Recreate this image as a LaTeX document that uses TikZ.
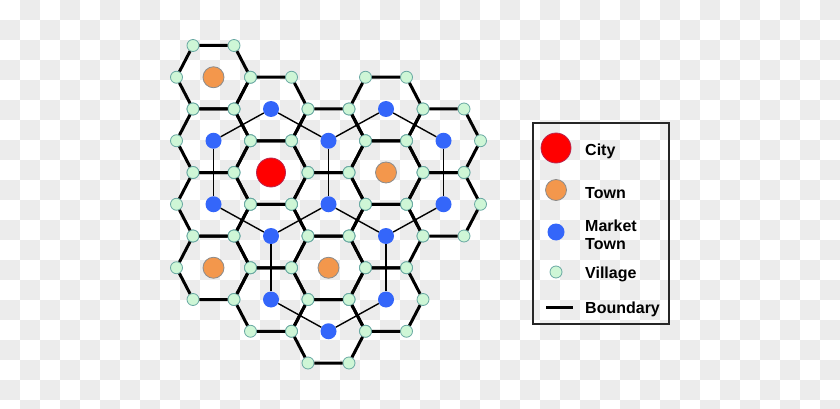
\documentclass[tikz,border=0pt]{standalone}
\usepackage{fontspec}
\setmainfont{Liberation Sans}
\definecolor{checkgray}{RGB}{236,236,236}
\definecolor{villagefill}{RGB}{206,246,214}
\definecolor{villageedge}{RGB}{104,168,162}
\definecolor{marketblue}{RGB}{52,102,250}
\definecolor{townorange}{RGB}{243,151,76}
\definecolor{townedge}{RGB}{140,140,140}
\definecolor{cityred}{RGB}{255,0,0}
\definecolor{cityedge}{RGB}{185,40,80}
\begin{document}
\begin{tikzpicture}[x=1pt,y=-1pt,
  village/.style={circle,draw=villageedge,fill=villagefill,line width=0.8pt,minimum size=12pt,inner sep=0pt},
  market/.style={circle,fill=marketblue,minimum size=16pt,inner sep=0pt},
  town/.style={circle,fill=townorange,draw=townedge,line width=0.8pt,minimum size=21pt,inner sep=0pt},
  city/.style={circle,fill=cityred,draw=cityedge,line width=0.8pt,minimum size=29pt,inner sep=0pt},
  boundary/.style={line width=3pt,draw=black},
  link/.style={line width=1.4pt,draw=black},
  legtext/.style={anchor=base west,inner sep=0pt,font=\bfseries\fontsize{16}{19}\selectfont}]
\useasboundingbox (0,0) rectangle (840,409);
% checkerboard background
\begin{scope}
\clip (0,0) rectangle (840,409);
\foreach \i in {0,...,41}{\foreach \j in {0,...,20}{
  \pgfmathtruncatemacro\odd{mod(\i+\j,2)}
  \ifnum\odd=1 \fill[checkgray] ({20*\i},{20*\j}) rectangle ++(20,20);\fi
}}
\end{scope}
% hex centres
\foreach \i/\j/\k in {-1/-3/town,-1/-1/market,-1/1/market,-1/3/town,
  0/-2/market,0/0/city,0/2/market,0/4/market,
  1/-1/market,1/1/market,1/3/town,1/5/market,
  2/-2/market,2/0/town,2/2/market,2/4/market,
  3/-1/market,3/1/market}{
  \pgfmathsetmacro\cx{271+57.5*\i}
  \pgfmathsetmacro\cy{172.5+31.75*\j}
  \node[\k] (h\i\j) at (\cx,\cy) {};
}
% villages at the hexagon corners
\foreach \i/\j in {-1/-3,-1/-1,-1/1,-1/3,0/-2,0/0,0/2,0/4,1/-1,1/1,1/3,1/5,2/-2,2/0,2/2,2/4,3/-1,3/1}{
  \pgfmathsetmacro\cx{271+57.5*\i}
  \pgfmathsetmacro\cy{172.5+31.75*\j}
  \foreach \n/\dx/\dy in {1/37/0,2/20.5/-31.75,3/-20.5/-31.75,4/-37/0,5/-20.5/31.75,6/20.5/31.75}{
    \node[village] (v\i\j-\n) at ({\cx+\dx},{\cy+\dy}) {};
  }
}
% market-town links
\foreach \a/\b in {h0-2/h1-1,h1-1/h11,h11/h02,h02/h-11,h-11/h-1-1,h-1-1/h0-2,
  h2-2/h3-1,h3-1/h31,h31/h22,h22/h11,h1-1/h2-2,
  h22/h24,h24/h15,h15/h04,h04/h02}{
  \draw[link] (\a) -- (\b);
}
% boundaries
\foreach \i/\j in {-1/-3,-1/-1,-1/1,-1/3,0/-2,0/0,0/2,0/4,1/-1,1/1,1/3,1/5,2/-2,2/0,2/2,2/4,3/-1,3/1}{
  \draw[boundary] (v\i\j-1) -- (v\i\j-2) -- (v\i\j-3) -- (v\i\j-4) -- (v\i\j-5) -- (v\i\j-6) -- (v\i\j-1);
}
% legend
\node[draw=black!85,line width=1.5pt,minimum width=136pt,minimum height=201pt,inner sep=0pt] (legend) at (601,223.5) {};
\node[city,minimum size=30pt] (lcity) at (556,148) {};
\node[town] (ltown) at (556,190) {};
\node[market,minimum size=17pt] (lmarket) at (556,232) {};
\node[village] (lvillage) at (556,272) {};
\coordinate (lb1) at (546,307);
\coordinate (lb2) at (573,307);
\draw[boundary] (lb1) -- (lb2);
\node[legtext] (tcity) at (585,155) {City};
\node[legtext] (ttown) at (585,198) {Town};
\node[legtext] (tmarket1) at (585,231) {Market};
\node[legtext] (tmarket2) at (585,249) {Town};
\node[legtext] (tvillage) at (585,278) {Village};
\node[legtext] (tboundary) at (585,313) {Boundary};
\end{tikzpicture}
\end{document}
